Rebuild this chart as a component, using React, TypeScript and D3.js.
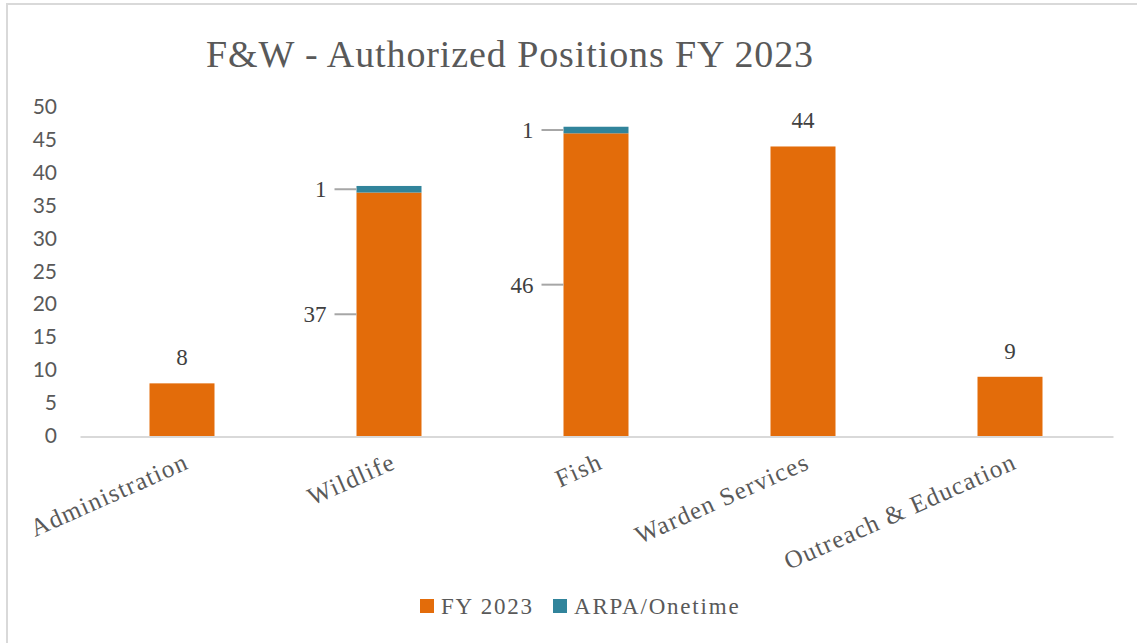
import { useEffect, useRef } from "react";
import * as d3 from "d3";

const categories = ["Administration", "Wildlife", "Fish", "Warden Services", "Outreach & Education"];
const fy2023 = [8, 37, 46, 44, 9];
const arpa = [0, 1, 1, 0, 0];
const yTicks = [0, 5, 10, 15, 20, 25, 30, 35, 40, 45, 50];
const seriesNames = ["FY 2023", "ARPA/Onetime"];

const ORANGE = "#e36c0a";
const TEAL = "#31849b";
const SERIF = "'Liberation Serif', 'DejaVu Serif', serif";
const SANS = "Lato, 'Open Sans', sans-serif";

export default function App() {
  const svgRef = useRef<SVGSVGElement>(null);
  const W = 1137, H = 643;
  const m = { top: 107, left: 78.5, right: 23.5, bottom: 207 };

  useEffect(() => {
    if (!svgRef.current) return;
    const svg = d3.select(svgRef.current);
    svg.selectAll("*").remove();

    /* frame */
    svg.append("rect")
      .attr("x", 7).attr("y", 4).attr("width", W + 10).attr("height", H + 10)
      .attr("fill", "#fff").attr("stroke", "#d9d9d9").attr("stroke-width", 2);

    /* title */
    svg.append("text")
      .attr("x", 510).attr("y", 67)
      .attr("text-anchor", "middle")
      .attr("font-family", SERIF).attr("font-size", 38).attr("letter-spacing", 0.9)
      .attr("fill", "#595959")
      .text("F&W - Authorized Positions FY 2023");

    const iW = W - m.left - m.right;
    const iH = 436 - m.top;

    const x = d3.scaleBand<string>().domain(categories).range([m.left, m.left + iW]).paddingInner(0.686).paddingOuter(0.343);
    const y = d3.scaleLinear().domain([0, 50]).range([m.top + iH, m.top]);

    /* y ticks */
    svg.append("g").selectAll("text").data(yTicks).join("text")
      .attr("x", 57).attr("y", d => y(d) + 7)
      .attr("text-anchor", "end")
      .attr("font-family", SANS).attr("font-size", 21).attr("fill", "#595959")
      .text(d => d);

    /* bars */
    const rows = categories.map((c, i) => ({ c, a: fy2023[i], b: arpa[i] }));
    const bars = svg.append("g");
    bars.selectAll("rect.fy").data(rows).join("rect")
      .attr("class", "fy")
      .attr("x", d => x(d.c)!).attr("width", x.bandwidth())
      .attr("y", d => y(d.a)).attr("height", d => y(0) - y(d.a))
      .attr("fill", ORANGE);
    bars.selectAll("rect.arpa").data(rows.filter(d => d.b > 0)).join("rect")
      .attr("class", "arpa")
      .attr("x", d => x(d.c)!).attr("width", x.bandwidth())
      .attr("y", d => y(d.a + d.b)).attr("height", d => y(d.a) - y(d.a + d.b))
      .attr("fill", TEAL);

    /* x axis line */
    svg.append("line")
      .attr("x1", m.left + 2).attr("x2", m.left + iW)
      .attr("y1", y(0) + 1).attr("y2", y(0) + 1)
      .attr("stroke", "#d9d9d9").attr("stroke-width", 2);

    /* category labels */
    svg.append("g").selectAll("text").data(categories).join("text")
      .attr("transform", d => `translate(${x(d)! + x.bandwidth() / 2 + 8},${468}) rotate(-24)`)
      .attr("text-anchor", "end")
      .attr("font-family", SERIF).attr("font-size", 25).attr("letter-spacing", 1.3)
      .attr("fill", "#595959")
      .text(d => d);

    /* data labels */
    const labels = svg.append("g")
      .attr("font-family", SERIF).attr("font-size", 23).attr("fill", "#404040");
    rows.forEach(d => {
      const cx = x(d.c)! + x.bandwidth() / 2;
      const left = x(d.c)!;
      if (d.b === 0) {
        labels.append("text")
          .attr("x", cx).attr("y", y(d.a) - 18)
          .attr("text-anchor", "middle")
          .text(d.a);
      } else {
        // callouts with leader lines, left of the bar
        const segs = [
          { v: d.a, mid: d.a / 2 },
          { v: d.b, mid: d.a + d.b / 2 },
        ];
        segs.forEach(s => {
          const yy = y(s.mid);
          labels.append("line")
            .attr("x1", left - 22).attr("x2", left)
            .attr("y1", yy).attr("y2", yy)
            .attr("stroke", "#a6a6a6").attr("stroke-width", 2);
          labels.append("text")
            .attr("x", left - 30).attr("y", yy + 8)
            .attr("text-anchor", "end")
            .text(s.v);
        });
      }
    });

    /* legend */
    const leg = svg.append("g");
    const legX = [420, 553];
    const legC = [ORANGE, TEAL];
    seriesNames.forEach((n, i) => {
      leg.append("rect")
        .attr("x", legX[i]).attr("y", 599).attr("width", 14).attr("height", 14)
        .attr("fill", legC[i]);
      leg.append("text")
        .attr("x", legX[i] + 21).attr("y", 614)
        .attr("font-family", SERIF).attr("font-size", 23).attr("letter-spacing", 1.8)
        .attr("fill", "#595959")
        .text(n);
    });
  }, []);

  return (
    <svg
      ref={svgRef}
      width={W}
      height={H}
      style={{ position: "absolute", left: 0, top: 0, display: "block" }}
    />
  );
}
